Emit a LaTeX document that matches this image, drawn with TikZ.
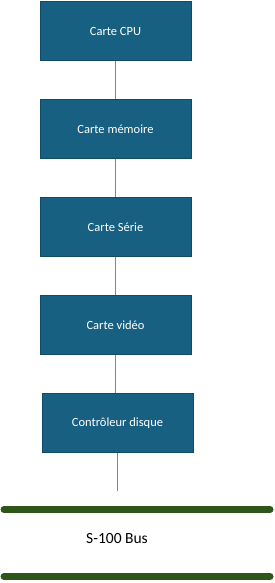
\documentclass[tikz,border=0pt]{standalone}
\usepackage{fontspec}
\setmainfont{Carlito}
\definecolor{boxfill}{HTML}{176082}
\definecolor{boxline}{HTML}{0F4C68}
\definecolor{linkc}{HTML}{7A9070}
\definecolor{busc}{HTML}{2E5618}
\begin{document}
\begin{tikzpicture}[x=1pt,y=-1pt,
  card/.style={draw=boxline,line width=0.8pt,fill=boxfill,text=white,minimum width=151pt,minimum height=59pt,inner sep=0pt,font=\fontsize{12.5}{14}\selectfont},
  link/.style={draw=linkc,line width=0.9pt},
  bus/.style={draw=busc,line width=7pt,line cap=round}]
\useasboundingbox (0,0) rectangle (274,583);
\node[card] (cpu) at (115.5,31) {Carte CPU};
\node[card] (mem) at (115.5,129) {Carte mémoire};
\node[card] (ser) at (115.5,227) {Carte Série};
\node[card] (vid) at (115.5,325) {Carte vidéo};
\node[card] (ctl) at (117.5,423) {Contrôleur disque};
\coordinate (end) at (117.5,491);
\draw[link] (cpu.south) -- (mem.north);
\draw[link] (mem.south) -- (ser.north);
\draw[link] (ser.south) -- (vid.north);
\draw[link] (vid.south) -- (ctl.north -| vid.south);
\draw[link] (ctl.south) -- (end);
\coordinate (b1l) at (4,509.5);
\coordinate (b1r) at (270,509.5);
\coordinate (b2l) at (4,576.5);
\coordinate (b2r) at (270,576.5);
\draw[bus] (b1l) -- (b1r);
\draw[bus] (b2l) -- (b2r);
\node[font=\fontsize{15.5}{18}\selectfont] (lbl) at (117,539) {S-100 Bus};
\end{tikzpicture}
\end{document}
